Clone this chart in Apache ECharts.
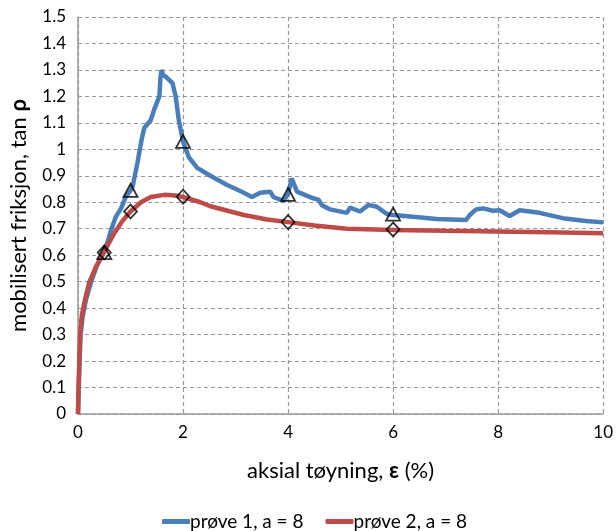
<!DOCTYPE html>
<html>
<head>
<meta charset="utf-8">
<script src="https://cdn.jsdelivr.net/npm/echarts@6/dist/echarts.min.js"></script>
<style>html,body{margin:0;padding:0;background:#fff}#c{width:616px;height:531px}</style>
</head>
<body>
<div id="c"></div>
<script>
const seriesNames = ['prøve 1, a = 8', 'prøve 2, a = 8'];
const blueX = [0,0.015,0.03,0.05,0.09,0.15,0.25,0.36,0.5,0.58,0.63,0.72,0.82,0.91,1.0,1.04,1.13,1.21,1.26,1.3,1.385,1.45,1.51,1.55,1.57,1.59,1.62,1.67,1.8,1.86,1.92,2.0,2.11,2.27,2.52,2.84,3.12,3.31,3.47,3.66,3.72,3.91,4.0,4.07,4.1,4.17,4.48,4.58,4.64,4.8,5.12,5.18,5.37,5.53,5.69,5.88,6.0,6.38,6.83,7.39,7.46,7.58,7.71,7.9,8.03,8.22,8.41,8.79,9.23,9.67,10];
const blueY = [0,0.1,0.2,0.3,0.37,0.43,0.5,0.56,0.613,0.66,0.695,0.745,0.777,0.82,0.845,0.86,0.947,1.035,1.08,1.09,1.11,1.15,1.18,1.2,1.27,1.3,1.28,1.275,1.25,1.2,1.11,1.03,0.97,0.93,0.9,0.865,0.84,0.82,0.836,0.84,0.82,0.805,0.83,0.89,0.885,0.84,0.815,0.81,0.79,0.773,0.76,0.78,0.765,0.79,0.783,0.756,0.752,0.745,0.737,0.733,0.752,0.773,0.777,0.768,0.77,0.748,0.77,0.76,0.74,0.729,0.724];
const redX = [0,0.01,0.025,0.04,0.07,0.12,0.21,0.34,0.5,0.69,0.85,1.0,1.2,1.385,1.64,1.85,2.0,2.33,2.52,3.16,3.6,4.0,4.5,5.12,6.0,7.0,7.96,9.0,10];
const redY = [0,0.1,0.2,0.3,0.37,0.42,0.495,0.556,0.613,0.683,0.73,0.765,0.8,0.82,0.828,0.826,0.82,0.8,0.785,0.752,0.735,0.725,0.712,0.7,0.695,0.692,0.69,0.687,0.683];
const triX = [0.5,1,2,4,6];
const triY = [0.61,0.845,1.03,0.83,0.755];
const diaX = [0.5,1,2,4,6];
const diaY = [0.61,0.765,0.821,0.725,0.697];
const xTicks = {min:0,max:10,interval:2};
const yTicks = {min:0,max:1.5,interval:0.1};

const zip = (a,b) => a.map((v,i)=>[v,b[i]]);
const font = 'Lato, "Open Sans", sans-serif';
const chart = echarts.init(document.getElementById('c'), null, {renderer:'canvas'});
chart.setOption({
  animation:false,
  textStyle:{fontFamily:font,color:'#000'},
  grid:{left:77,right:12,top:17,bottom:117},
  legend:{
    data:seriesNames, left:157, top:507, itemGap:22, itemWidth:28, itemHeight:5, icon:'roundRect',
    textStyle:{fontFamily:font,fontSize:19,color:'#000',padding:[0,0,0,-5]}
  },
  xAxis:{
    type:'value', min:xTicks.min, max:xTicks.max, interval:xTicks.interval,
    name:'aksial tøyning, {b|ε} (%)', nameLocation:'middle', nameGap:46,
    nameTextStyle:{fontFamily:font,fontSize:22,color:'#000',rich:{b:{fontFamily:font,fontSize:22,fontWeight:'bold',color:'#000'}}},
    axisLine:{lineStyle:{color:'#999',width:1.5}},
    axisTick:{show:false},
    axisLabel:{fontSize:17,color:'#000',margin:10},
    splitLine:{show:true,lineStyle:{color:'#999',type:[4,3],width:1.2}}
  },
  yAxis:{
    type:'value', min:yTicks.min, max:yTicks.max, interval:yTicks.interval,
    name:'mobilisert friksjon, tan {b|ρ}', nameLocation:'middle', nameGap:48,
    nameTextStyle:{fontFamily:font,fontSize:22,color:'#000',rich:{b:{fontFamily:font,fontSize:22,fontWeight:'bold',color:'#000'}}},
    axisLine:{show:true,lineStyle:{color:'#999',width:1.5}},
    axisTick:{show:false},
    axisLabel:{fontSize:17,color:'#000',margin:12,formatter:v=>String(+v.toFixed(1))},
    splitLine:{show:true,lineStyle:{color:'#999',type:[4,3],width:1.2}}
  },
  series:[
    {name:seriesNames[0],type:'line',data:zip(blueX,blueY),showSymbol:false,lineStyle:{color:'#4A7EBB',width:4.5},itemStyle:{color:'#4A7EBB'},z:2},
    {name:seriesNames[1],type:'line',data:zip(redX,redY),showSymbol:false,lineStyle:{color:'#BE4B48',width:4.5},itemStyle:{color:'#BE4B48'},z:3},
    {type:'scatter',data:zip(triX,triY),symbol:'triangle',symbolSize:[14,13],itemStyle:{color:'rgba(0,0,0,0)',borderColor:'#000',borderWidth:1.8},z:5},
    {type:'scatter',data:zip(diaX,diaY),symbol:'diamond',symbolSize:[13,14],itemStyle:{color:'rgba(0,0,0,0)',borderColor:'#000',borderWidth:1.8},z:5}
  ]
});
</script>
</body>
</html>
